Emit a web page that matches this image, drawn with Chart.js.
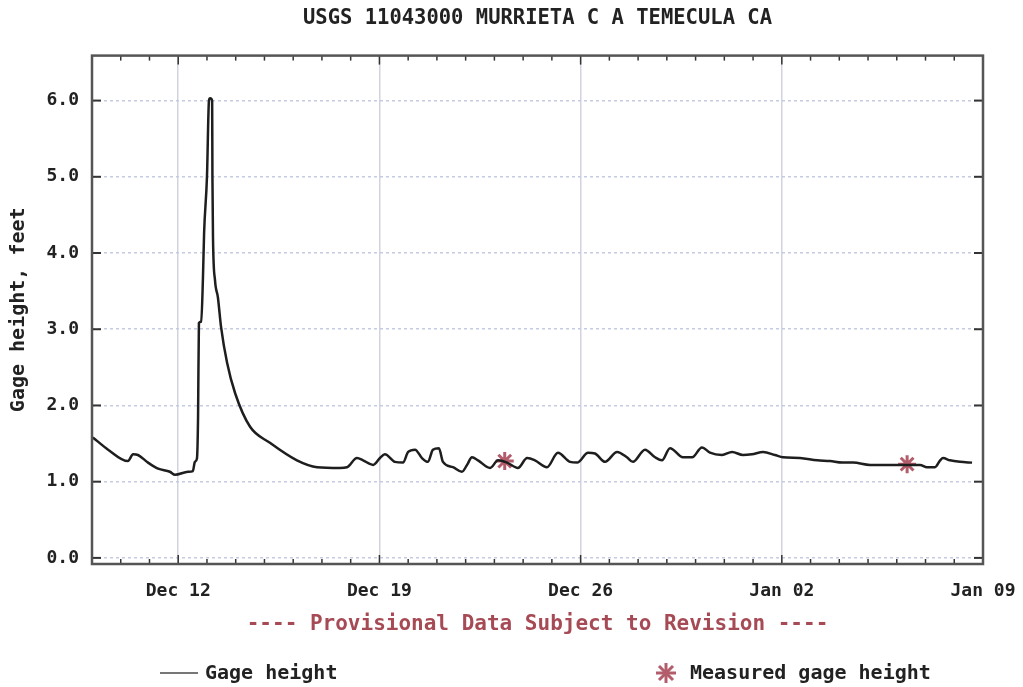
<!DOCTYPE html>
<html>
<head>
<meta charset="utf-8">
<script src="https://cdn.jsdelivr.net/npm/chart.js@4.4.1/dist/chart.umd.min.js"></script>
<style>
    html, body { margin: 0; padding: 0; background: #fff; }
    #wrap { position: relative; width: 1023px; height: 687px; }
    #legend { position: absolute; left: 0; top: 660px; width: 1023px; height: 26px;
              font: bold 20px "DejaVu Sans Mono", monospace; color: #222; }
    #legend span, #legend svg { position: absolute; }
</style>
</head>
<body>
<div id="wrap">
    <canvas id="grafico" width="1023" height="687"></canvas>
    <div id="legend">
        <span style="left:160px;top:12px;width:38px;border-top:2px solid #777"></span>
        <span style="left:205px;top:0">Gage height</span>
        <svg style="left:654px;top:1px" width="24" height="24" viewBox="0 0 24 24">
            <g stroke="#b35c6b" stroke-width="3">
                <line x1="12" y1="2" x2="12" y2="22"/><line x1="2" y1="12" x2="22" y2="12"/>
                <line x1="5" y1="5" x2="19" y2="19"/><line x1="19" y1="5" x2="5" y2="19"/>
            </g>
        </svg>
        <span style="left:690px;top:0">Measured gage height</span>
    </div>
</div>
<script>
// days counted from Dec 09 00:00
const gageDays = [0.03, 0.56, 1.25, 1.43, 1.60, 1.95, 2.30, 2.71, 2.89, 3.34, 3.51, 3.58, 3.65, 3.69, 3.72, 3.80,
    3.86, 3.90, 4.00, 4.07, 4.11, 4.18, 4.19, 4.21, 4.28, 4.38, 4.49, 4.70, 4.98, 5.50, 6.19, 7.13, 7.83, 8.63,
    8.87, 9.22, 9.43, 9.78, 10.02, 10.19, 10.54, 10.82, 11.00, 11.24, 11.48, 11.69, 11.86, 12.07, 12.21, 12.56,
    12.87, 13.05, 13.22, 13.43, 13.85, 14.13, 14.44, 14.82, 15.14, 15.41, 15.83, 16.21, 16.63, 16.88, 17.26,
    17.50, 17.85, 18.27, 18.61, 18.82, 19.24, 19.59, 19.83, 20.11, 20.56, 20.88, 21.22, 21.50, 21.92, 22.27,
    22.65, 22.96, 23.35, 23.76, 24.04, 24.63, 25.23, 25.68, 26.10, 26.48, 27.07, 28.11, 28.81, 29.05, 29.33,
    29.51, 29.61, 29.85, 30.20, 30.62];
const gageFeet = [1.58, 1.42, 1.27, 1.36, 1.35, 1.25, 1.17, 1.13, 1.09, 1.13, 1.14, 1.26, 1.30, 1.85, 3.08, 3.10,
    3.67, 4.26, 5.00, 6.00, 6.03, 6.00, 5.00, 4.20, 3.64, 3.42, 3.03, 2.56, 2.16, 1.72, 1.51, 1.28, 1.19, 1.18,
    1.19, 1.31, 1.28, 1.22, 1.31, 1.36, 1.26, 1.25, 1.39, 1.42, 1.31, 1.26, 1.42, 1.44, 1.26, 1.19,
    1.13, 1.22, 1.32, 1.28, 1.18, 1.28, 1.25, 1.18, 1.31, 1.28, 1.19, 1.38, 1.26, 1.25, 1.38,
    1.37, 1.26, 1.39, 1.32, 1.26, 1.42, 1.32, 1.28, 1.44, 1.32, 1.32, 1.45, 1.38, 1.35, 1.39,
    1.35, 1.36, 1.39, 1.35, 1.32, 1.31, 1.28, 1.27, 1.25, 1.25, 1.22, 1.22, 1.22, 1.19, 1.19,
    1.28, 1.31, 1.28, 1.26, 1.25];
const measuredDays = [14.36, 28.36];
const measuredFeet = [1.27, 1.23];

const yTicks = [0, 1, 2, 3, 4, 5, 6];
const xTickDays = [3, 10, 17, 24, 31];
const xTickLabels = ['Dec 12', 'Dec 19', 'Dec 26', 'Jan 02', 'Jan 09'];

const mono = '"DejaVu Sans Mono", monospace';

// frame plus the little inward tick marks
const frame = {
    id: 'frame',
    afterDraw(chart) {
        const { ctx, chartArea: a, scales: { x, y } } = chart;
        const line = (x1, y1, x2, y2) => { ctx.beginPath(); ctx.moveTo(x1, y1); ctx.lineTo(x2, y2); ctx.stroke(); };
        ctx.save();
        ctx.strokeStyle = '#333';
        ctx.lineWidth = 1.5;
        for (let d = 0; d <= 31; d++) {
            const px = x.getPixelForValue(d);
            const len = xTickDays.includes(d) ? 9 : 5;
            line(px, a.bottom, px, a.bottom - len);
            line(px, a.top, px, a.top + len);
        }
        ctx.lineWidth = 2;
        yTicks.forEach(v => {
            const py = y.getPixelForValue(v);
            line(a.left, py, a.left + 9, py);
            line(a.right, py, a.right - 9, py);
        });
        ctx.strokeStyle = '#555';
        ctx.lineWidth = 2.5;
        ctx.strokeRect(a.left, a.top, a.right - a.left, a.bottom - a.top);
        ctx.restore();
    }
};

const ctx = document.getElementById('grafico').getContext('2d');
new Chart(ctx, {
    type: 'line',
    data: {
        datasets: [{
            label: 'Gage height',
            data: gageDays.map((d, i) => ({ x: d, y: gageFeet[i] })),
            borderColor: '#1e1e1e',
            borderWidth: 2.5,
            pointRadius: 0,
            cubicInterpolationMode: 'monotone'
        }, {
            label: 'Measured gage height',
            data: measuredDays.map((d, i) => ({ x: d, y: measuredFeet[i] })),
            showLine: false,
            pointStyle: 'star',
            pointRadius: 9,
            borderColor: '#b35c6b',
            borderWidth: 3
        }]
    },
    options: {
        responsive: false,
        animation: false,
        devicePixelRatio: 1,
        layout: { padding: { left: 0, right: 40, top: 0, bottom: 50 } },
        plugins: {
            legend: { display: false },
            tooltip: { enabled: false },
            title: {
                display: true,
                fullSize: false,
                text: 'USGS 11043000 MURRIETA C A TEMECULA CA',
                color: '#222',
                font: { family: mono, size: 20.5, weight: 'bold' },
                padding: { top: 6, bottom: 25 }
            }
        },
        scales: {
            x: {
                type: 'linear',
                min: 0,
                max: 31,
                afterBuildTicks: s => { s.ticks = Array.from({ length: 32 }, (_, d) => ({ value: d })); },
                afterFit: s => { s.height = 73; s.paddingLeft = 0; s.paddingRight = 0; },
                ticks: {
                    autoSkip: false,
                    maxRotation: 0,
                    padding: 17,
                    color: '#222',
                    font: { family: mono, size: 18, weight: 'bold' },
                    callback: v => { const k = xTickDays.indexOf(v); return k >= 0 ? xTickLabels[k] : ''; }
                },
                grid: {
                    drawTicks: false,
                    lineWidth: 1.5,
                    color: c => xTickDays.includes(c.tick && c.tick.value) ? '#d2d3dd' : 'rgba(0,0,0,0)'
                },
                border: { display: false },
                title: {
                    display: true,
                    text: '---- Provisional Data Subject to Revision ----',
                    color: '#a64a55',
                    font: { family: mono, size: 21, weight: 'bold' },
                    padding: { top: 0, bottom: 0 }
                }
            },
            y: {
                min: -0.08,
                max: 6.59,
                afterBuildTicks: s => { s.ticks = yTicks.map(v => ({ value: v })); },
                afterFit: s => { s.width = 92; s.paddingTop = 0; s.paddingBottom = 0; },
                ticks: {
                    padding: 13,
                    color: '#222',
                    font: { family: mono, size: 18, weight: 'bold' },
                    callback: v => v.toFixed(1)
                },
                grid: { drawTicks: false, color: '#c6cbe4', lineWidth: 1.5 },
                border: { display: false, dash: [3, 3] },
                title: {
                    display: true,
                    text: 'Gage height, feet',
                    color: '#222',
                    font: { family: mono, size: 20, weight: 'bold' },
                    padding: { top: 7, bottom: 0 }
                }
            }
        }
    },
    plugins: [frame]
});
</script>
</body>
</html>
